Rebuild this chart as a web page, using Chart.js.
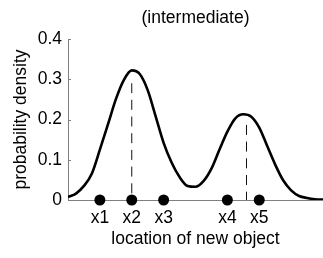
<!DOCTYPE html>
<html>
<head>
<meta charset="utf-8">
<script src="https://cdn.jsdelivr.net/npm/chart.js@4"></script>
<style>
html,body{margin:0;padding:0;background:#fff;}
#c{display:block;}
</style>
</head>
<body>
<canvas id="c" width="323" height="258"></canvas>
<script>
// ---- data ----
const titleText = "(intermediate)";
const xTitle = "location of new object";
const yTitle = "probability density";

const curveX = [0, 0.25, 0.5, 0.75, 1.0, 1.25, 1.5, 1.75, 2.0, 2.25, 2.5, 2.75, 3.0, 3.25, 3.5, 3.75, 4.0, 4.25, 4.5, 4.75, 5.0, 5.25, 5.5, 5.75, 6.0, 6.25, 6.5, 6.75, 7.0, 7.25, 7.5, 7.75, 8.0];
const curveY = [0.0075, 0.016, 0.035, 0.066, 0.125, 0.187, 0.25, 0.298, 0.322, 0.313, 0.273, 0.208, 0.142, 0.093, 0.057, 0.035, 0.033, 0.047, 0.078, 0.125, 0.170, 0.203, 0.213, 0.207, 0.180, 0.134, 0.088, 0.049, 0.024, 0.010, 0.005, 0.002, 0.001];

const objX = [1, 2, 3, 5, 6];
const objLabels = ["x1", "x2", "x3", "x4", "x5"];

// dashed markers under the two peaks (x, top of the dashed line)
const peakX = [2, 5.6];
const peakTop = [0.29, 0.187];

const yTicks = [0, 0.1, 0.2, 0.3, 0.4];
const yTickLabels = ["0", "0.1", "0.2", "0.3", "0.4"];

const xMin = 0, xMax = 8, yMin = 0, yMax = 0.4;

// ---- chart ----
const FONT = "'Liberation Sans', Arial, Helvetica, sans-serif";
const FS = 17.5;
const dashOffsets = [10, 1.7];

const datasets = [];
peakX.forEach((px, i) => {
  datasets.push({
    data: [{x: px, y: 0}, {x: px, y: peakTop[i]}],
    showLine: true,
    borderColor: '#111',
    borderWidth: 1,
    borderDash: [10, 6.7],
    borderDashOffset: dashOffsets[i],
    pointRadius: 0,
    fill: false
  });
});
datasets.push({
  data: curveX.map((x, i) => ({x: x, y: curveY[i]})),
  showLine: true,
  borderColor: '#000',
  borderWidth: 2.6,
  pointRadius: 0,
  cubicInterpolationMode: 'monotone',
  fill: false
});
datasets.push({
  data: objX.map(x => ({x: x, y: 0})),
  showLine: false,
  pointRadius: 5.5,
  pointBackgroundColor: '#000',
  pointBorderColor: '#000',
  pointBorderWidth: 0,
  clip: false
});

const innerTicks = {
  id: 'innerTicks',
  afterDatasetsDraw(chart) {
    const ctx = chart.ctx;
    const ys = chart.scales.y;
    ctx.save();
    ctx.strokeStyle = '#808080';
    ctx.lineWidth = 1;
    yTicks.forEach(v => {
      const py = Math.round(ys.getPixelForValue(v)) + 0.5;
      ctx.beginPath();
      ctx.moveTo(ys.right, py);
      ctx.lineTo(ys.right + 3, py);
      ctx.stroke();
    });
    ctx.restore();
  }
};

new Chart(document.getElementById('c'), {
  type: 'scatter',
  data: {datasets},
  options: {
    responsive: false,
    animation: false,
    devicePixelRatio: 1,
    layout: {autoPadding: false, padding: {left: 0, right: 0, top: 0, bottom: 0}},
    plugins: {
      legend: {display: false},
      tooltip: {enabled: false},
      title: {
        display: true,
        fullSize: false,
        text: titleText,
        color: '#000',
        font: {family: FONT, size: FS, weight: 'normal'},
        padding: {top: 7.5, bottom: 10.5}
      }
    },
    scales: {
      x: {
        type: 'linear',
        min: xMin, max: xMax,
        afterFit(s) { s.height = 58; s.paddingLeft = 0; s.paddingRight = 0; },
        afterBuildTicks(s) { s.ticks = objX.map(v => ({value: v})); },
        grid: {display: false, drawTicks: false},
        border: {display: true, color: '#808080', width: 1},
        ticks: {
          color: '#000',
          font: {family: FONT, size: FS},
          padding: 8,
          maxRotation: 0,
          autoSkip: false,
          callback: (v, i) => objLabels[i]
        },
        title: {
          display: true,
          text: xTitle,
          color: '#000',
          font: {family: FONT, size: FS},
          padding: {top: 0, bottom: 8.5}
        }
      },
      y: {
        type: 'linear',
        min: yMin, max: yMax,
        afterFit(s) { s.width = 68; },
        afterBuildTicks(s) { s.ticks = yTicks.map(v => ({value: v})); },
        grid: {display: false, drawTicks: false},
        border: {display: true, color: '#808080', width: 1},
        ticks: {
          color: '#000',
          font: {family: FONT, size: FS},
          padding: 6,
          callback: (v, i) => yTickLabels[i]
        },
        title: {
          display: true,
          text: yTitle,
          color: '#000',
          font: {family: FONT, size: FS},
          padding: {top: 10.5, bottom: 0}
        }
      }
    }
  },
  plugins: [innerTicks]
});
</script>
</body>
</html>
